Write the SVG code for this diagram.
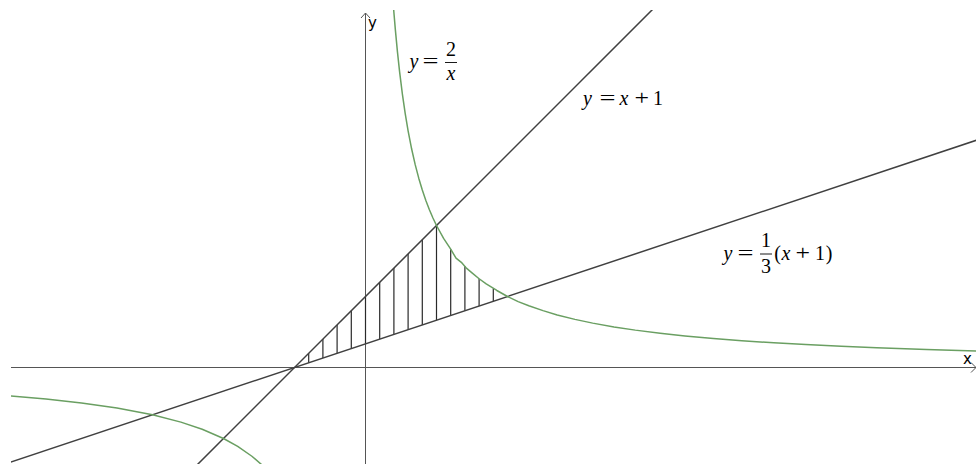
<svg xmlns="http://www.w3.org/2000/svg" width="976" height="464" viewBox="0 0 976 464">
<style>
.axis{stroke:#555;stroke-width:1;fill:none}
.line{stroke:#404040;stroke-width:1.5;fill:none}
.curve{stroke:#6a9f62;stroke-width:1.5;fill:none;stroke-linejoin:round}
.hatch{stroke:#2a2a2a;stroke-width:1.2}
.m{font-family:"Liberation Serif","Times New Roman",serif;font-size:20px;fill:#000}
.i{font-style:italic}
.ax{font-family:"DejaVu Sans","Liberation Sans",sans-serif;font-size:15px;fill:#000}
.bar{stroke:#000;stroke-width:0.9}
</style>
<defs>
<clipPath id="view"><rect x="11" y="10" width="965" height="454"/></clipPath>
</defs>
<rect width="976" height="464" fill="#fff"/>
<g id="axes">
<line class="axis" x1="11" y1="367.5" x2="976" y2="367.5"/>
<polyline class="axis" points="971,362.5 976,367.5 971,372.5"/>
<line class="axis" x1="365.5" y1="464" x2="365.5" y2="13"/>
<polyline class="axis" points="361,18 365.5,13 370,18"/>
<text class="ax" x="368" y="28">y</text>
<text class="ax" x="963" y="364">x</text>
</g>
<g id="hatching">
<line class="hatch" x1="308.7" y1="353.3" x2="308.7" y2="362.77"/>
<line class="hatch" x1="322.9" y1="339.1" x2="322.9" y2="358.03"/>
<line class="hatch" x1="337.1" y1="324.9" x2="337.1" y2="353.3"/>
<line class="hatch" x1="351.3" y1="310.7" x2="351.3" y2="348.57"/>
<line class="hatch" x1="365.5" y1="296.5" x2="365.5" y2="343.83"/>
<line class="hatch" x1="379.7" y1="282.3" x2="379.7" y2="339.1"/>
<line class="hatch" x1="393.9" y1="268.1" x2="393.9" y2="334.37"/>
<line class="hatch" x1="408.1" y1="253.9" x2="408.1" y2="329.63"/>
<line class="hatch" x1="422.3" y1="239.7" x2="422.3" y2="324.9"/>
<line class="hatch" x1="436.5" y1="225.5" x2="436.5" y2="320.17"/>
<line class="hatch" x1="450.7" y1="249.17" x2="450.7" y2="315.43"/>
<line class="hatch" x1="464.9" y1="266.07" x2="464.9" y2="310.7"/>
<line class="hatch" x1="479.1" y1="278.75" x2="479.1" y2="305.97"/>
<line class="hatch" x1="493.3" y1="288.61" x2="493.3" y2="301.23"/>
</g>
<g id="graphs" clip-path="url(#view)">
<line id="line-x-plus-1" class="line" x1="152.5" y1="509.5" x2="720.5" y2="-58.5"/>
<line id="line-third" class="line" x1="-60.5" y1="485.83" x2="1075.5" y2="107.17"/>
<polyline id="hyperbola-pos" class="curve" points="392.48,-6.18 393.9,12.5 395.32,29.4 397.45,51.94 399.58,71.67 402.42,94.42 405.26,113.93 408.1,130.83 411.65,149.04 415.2,164.64 418.75,178.17 422.3,190 425.85,200.43 429.4,209.72 432.95,218.05 436.5,225.5 443.6,238.41 450.7,249.17 456.025,258.17 461.35,262.31 466.675,268.45 472,272.83 479.1,278.75 486.2,283.97 496.85,290.48 507.5,296.5 518.15,301.61 528.8,305.76 542.998,310.65 557.2,314.91 574.95,319.38 592.7,323.13 614,326.9 635.3,330.13 660.15,333.2 685,335.94 713.4,338.48 741.8,340.71 773.75,342.8 805.7,344.6 841.2,346.29 876.7,347.78 926.4,349.5 976.1,350.99 1004.5,351.72"/>
<polyline id="hyperbola-neg" class="curve" points="-25,393.32 10.5,395.9 46,399.06 81.5,403 117,408.07 152.5,414.83 180.9,422.12 202.2,429.24 223.5,438.5 237.7,446.39 251.9,456.25 262.55,465.43 273.2,476.73"/>
</g>
<g id="label-hyperbola">
<text class="m i" x="414" y="67.5" text-anchor="middle">y</text>
<text class="m" x="422.5" y="67.5" textLength="16" lengthAdjust="spacingAndGlyphs">=</text>
<line class="bar" x1="445" y1="62.5" x2="457" y2="62.5"/>
<text class="m" x="451" y="56" text-anchor="middle">2</text>
<text class="m i" x="451" y="80" text-anchor="middle">x</text>
</g>
<g id="label-line1">
<text class="m i" x="587.5" y="105" text-anchor="middle">y</text>
<text class="m" x="599.5" y="105" textLength="16" lengthAdjust="spacingAndGlyphs">=</text>
<text class="m i" x="624" y="105" text-anchor="middle">x</text>
<text class="m" x="634.5" y="105" textLength="14.5" lengthAdjust="spacingAndGlyphs">+</text>
<text class="m" x="658" y="105" text-anchor="middle">1</text>
</g>
<g id="label-line2">
<text class="m i" x="728" y="259.5" text-anchor="middle">y</text>
<text class="m" x="737.5" y="259.5" textLength="16" lengthAdjust="spacingAndGlyphs">=</text>
<line class="bar" x1="760" y1="254" x2="772" y2="254"/>
<text class="m" x="766" y="246.5" text-anchor="middle">1</text>
<text class="m" x="766" y="272.5" text-anchor="middle">3</text>
<text class="m" x="777.5" y="259.5" text-anchor="middle">(</text>
<text class="m i" x="786" y="259.5" text-anchor="middle">x</text>
<text class="m" x="795.5" y="259.5" textLength="14.5" lengthAdjust="spacingAndGlyphs">+</text>
<text class="m" x="820" y="259.5" text-anchor="middle">1</text>
<text class="m" x="829" y="259.5" text-anchor="middle">)</text>
</g>
</svg>
